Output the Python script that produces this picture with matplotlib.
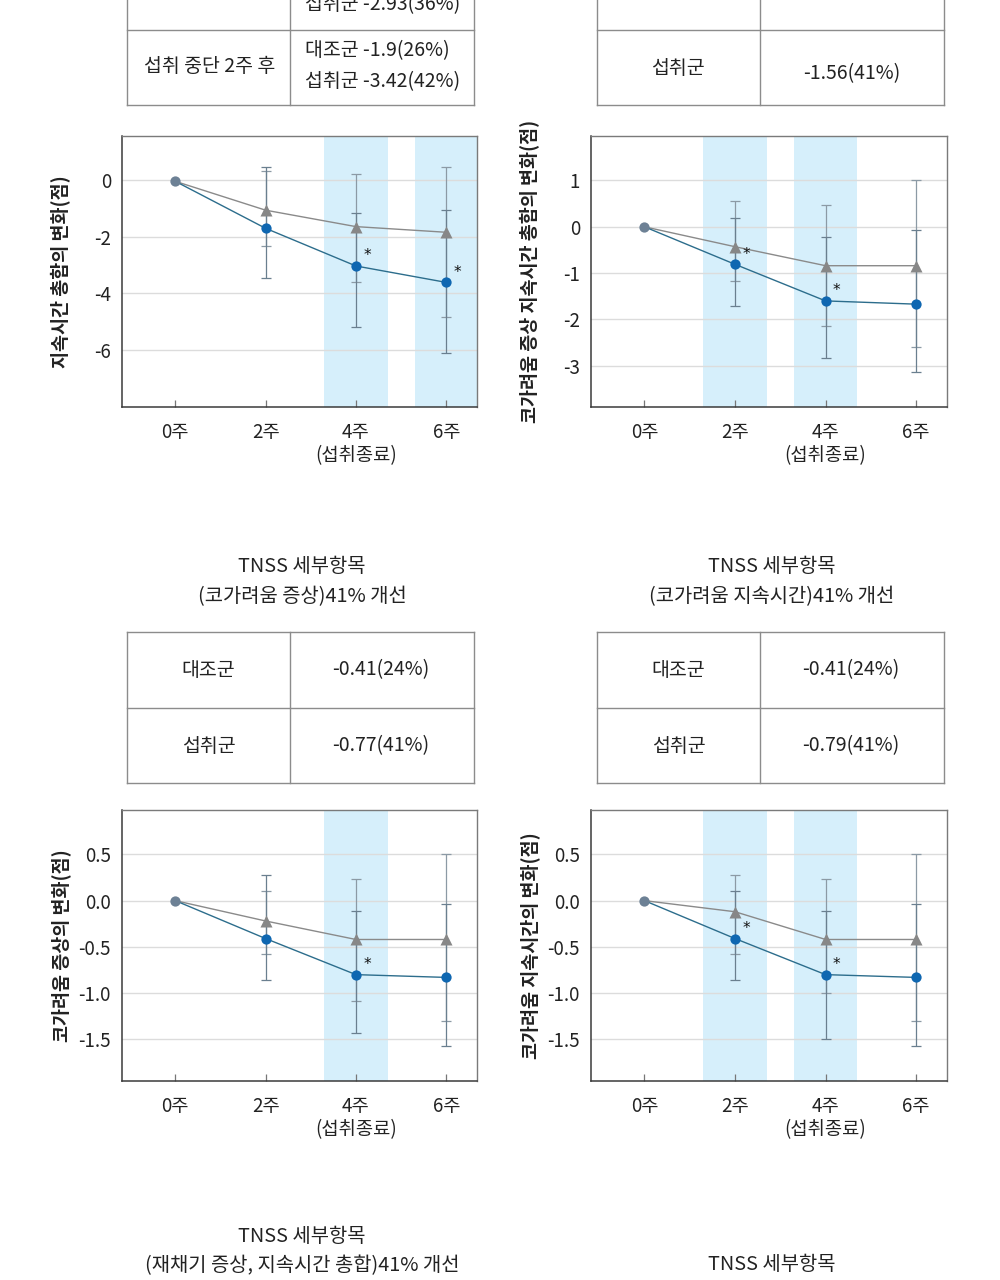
import matplotlib
matplotlib.use('Agg')
import matplotlib.pyplot as plt
import numpy as np

plt.rcParams['font.family'] = ['Noto Sans CJK KR', 'DejaVu Sans']
plt.rcParams['axes.unicode_minus'] = False

# ---------------- data ----------------
week_labels = ['0주', '2주', '4주\n(섭취종료)', '6주']
weeks = [0, 1, 2, 3]

# chart 1: 지속시간 총합
c1_ctrl = [-0.05, -1.07, -1.65, -1.85]
c1_ctrl_hi = [0.33, 0.20, 0.47]
c1_ctrl_lo = [-2.33, -3.59, -4.83]
c1_trt = [-0.05, -1.71, -3.04, -3.62]
c1_trt_hi = [0.44, -1.18, -1.08]
c1_trt_lo = [-3.45, -5.20, -6.12]
c1_bands = [2, 3]
c1_stars = [2, 3]
c1_yticks = [0, -2, -4, -6]
c1_ylim = (-8.02, 1.55)
c1_ylabel = '지속시간 총합의 변화(점)'

# chart 2: 코가려움 증상 지속시간 총합
c2_ctrl = [0.0, -0.43, -0.84, -0.84]
c2_ctrl_hi = [0.56, 0.46, 1.00]
c2_ctrl_lo = [-1.17, -2.15, -2.59]
c2_trt = [0.0, -0.81, -1.60, -1.67]
c2_trt_hi = [0.20, -0.21, -0.06]
c2_trt_lo = [-1.71, -2.84, -3.14]
c2_bands = [1, 2]
c2_stars = [1, 2]
c2_yticks = [1, 0, -1, -2, -3]
c2_ylim = (-3.89, 1.96)
c2_ylabel = '코가려움 증상 지속시간 총합의 변화(점)'

# chart 3: 코가려움 증상
c3_ctrl = [0.0, -0.22, -0.42, -0.42]
c3_ctrl_hi = [0.10, 0.23, 0.50]
c3_ctrl_lo = [-0.58, -1.08, -1.30]
c3_trt = [0.0, -0.41, -0.80, -0.83]
c3_trt_hi = [0.28, -0.11, -0.04]
c3_trt_lo = [-0.86, -1.43, -1.57]
c3_bands = [2]
c3_stars = [2]
c3_yticks = [0.5, 0.0, -0.5, -1.0, -1.5]
c3_ylim = (-1.95, 0.98)
c3_ylabel = '코가려움 증상의 변화(점)'

# chart 4: 코가려움 지속시간
c4_ctrl = [0.0, -0.12, -0.42, -0.42]
c4_ctrl_hi = [0.28, 0.23, 0.50]
c4_ctrl_lo = [-0.58, -1.00, -1.30]
c4_trt = [0.0, -0.41, -0.80, -0.83]
c4_trt_hi = [0.10, -0.11, -0.04]
c4_trt_lo = [-0.86, -1.50, -1.57]
c4_bands = [1, 2]
c4_stars = [1, 2]
c4_yticks = [0.5, 0.0, -0.5, -1.0, -1.5]
c4_ylim = (-1.95, 0.98)
c4_ylabel = '코가려움 지속시간의 변화(점)'

# titles
title_head = 'TNSS 세부항목'
title_mid_left = '(코가려움 증상)41% 개선'
title_mid_right = '(코가려움 지속시간)41% 개선'
title_bot_left = '(재채기 증상, 지속시간 총합)41% 개선'

# tables
top_left_row1_label = '섭취 4주 후'
top_left_row1_vals = ['대조군 -1.6(22%)', '섭취군 -2.93(36%)']
top_left_row2_label = '섭취 중단 2주 후'
top_left_row2_vals = ['대조군 -1.9(26%)', '섭취군 -3.42(42%)']
top_right_rows = [('대조군', '-0.84(22%)'), ('섭취군', '-1.56(41%)')]
mid_left_rows = [('대조군', '-0.41(24%)'), ('섭취군', '-0.77(41%)')]
mid_right_rows = [('대조군', '-0.41(24%)'), ('섭취군', '-0.79(41%)')]

# ---------------- style ----------------
W, H = 1000, 1280
TXT = '#222222'
LINE_GRAY = '#8a8a8a'
TRI_GRAY = '#878787'
BLUE_M = '#0f67b1'
BLUE_L = '#2c6d8c'
ZERO_M = '#6d8195'
ERR_C = '#8c9aa5'
ERR_T = '#6a7f8f'
BAND = '#d6effb'
GRID = '#dcdcdc'
TABLE_C = '#8c8c8c'

fig = plt.figure(figsize=(W / 100, H / 100), dpi=100)
fig.patch.set_facecolor('white')

# overlay in pixel coordinates for tables and titles
ov = fig.add_axes([0, 0, 1, 1], zorder=0)
ov.set_xlim(0, W)
ov.set_ylim(H, 0)
ov.axis('off')


def table_lines(x0, x1, xm, ytop, ymid, ybot):
    kw = dict(color=TABLE_C, lw=1.0)
    ov.plot([x0, x1], [ybot, ybot], **kw)
    ov.plot([x0, x1], [ymid, ymid], **kw)
    if ytop > 0:
        ov.plot([x0, x1], [ytop, ytop], **kw)
    for x in (x0, xm, x1):
        ov.plot([x, x], [ytop, ybot], **kw)


FS_T = 14
# top-left table (cut by top edge)
table_lines(127, 474, 290, -60, 30, 105)
ov.text(208.5, -10, top_left_row1_label, ha='center', va='center', fontsize=FS_T, color=TXT)
ov.text(305, -24, top_left_row1_vals[0], ha='left', va='center', fontsize=FS_T, color=TXT)
ov.text(305, 5, top_left_row1_vals[1], ha='left', va='center', fontsize=FS_T, color=TXT)
ov.text(210, 67, top_left_row2_label, ha='center', va='center', fontsize=FS_T, color=TXT)
ov.text(305, 51, top_left_row2_vals[0], ha='left', va='center', fontsize=FS_T, color=TXT)
ov.text(305, 82, top_left_row2_vals[1], ha='left', va='center', fontsize=FS_T, color=TXT)

# top-right table
table_lines(597, 944, 760, -60, 30, 105)
ov.text(678, -9, top_right_rows[0][0], ha='center', va='center', fontsize=FS_T, color=TXT)
ov.text(852, -9, top_right_rows[0][1], ha='center', va='center', fontsize=FS_T, color=TXT)
ov.text(678, 68, top_right_rows[1][0], ha='center', va='center', fontsize=FS_T, color=TXT)
ov.text(852, 74, top_right_rows[1][1], ha='center', va='center', fontsize=FS_T, color=TXT)

# middle tables
table_lines(127, 474, 290, 632, 708, 783)
table_lines(597, 944, 760, 632, 708, 783)
for (lab, val), yc in zip(mid_left_rows, (670, 746)):
    ov.text(208.5, yc, lab, ha='center', va='center', fontsize=FS_T, color=TXT)
    ov.text(381, yc, val, ha='center', va='center', fontsize=FS_T, color=TXT)
for (lab, val), yc in zip(mid_right_rows, (670, 746)):
    ov.text(678.5, yc, lab, ha='center', va='center', fontsize=FS_T, color=TXT)
    ov.text(851, yc, val, ha='center', va='center', fontsize=FS_T, color=TXT)

# titles
FS_TITLE = 14.3
ov.text(302, 566, title_head, ha='center', va='center', fontsize=FS_TITLE, color=TXT)
ov.text(302, 597, title_mid_left, ha='center', va='center', fontsize=FS_TITLE, color=TXT)
ov.text(772, 566, title_head, ha='center', va='center', fontsize=FS_TITLE, color=TXT)
ov.text(772, 597, title_mid_right, ha='center', va='center', fontsize=FS_TITLE, color=TXT)
ov.text(302, 1236, title_head, ha='center', va='center', fontsize=FS_TITLE, color=TXT)
ov.text(302, 1266, title_bot_left, ha='center', va='center', fontsize=FS_TITLE, color=TXT)
ov.text(772, 1265, title_head, ha='center', va='center', fontsize=FS_TITLE, color=TXT)


def make_axes(px_left, px_top, px_w, px_h):
    return fig.add_axes([px_left / W, 1 - (px_top + px_h) / H, px_w / W, px_h / H], zorder=2)


def draw_chart(ax, ctrl, ctrl_hi, ctrl_lo, trt, trt_hi, trt_lo, bands, stars,
               yticks, ylim, ylabel, fmt):
    x = np.array(weeks, dtype=float)
    ctrl = np.array(ctrl)
    trt = np.array(trt)
    for b in bands:
        ax.axvspan(b - 0.35, b + 0.35, color=BAND, lw=0, zorder=0)
    for yt in yticks:
        ax.axhline(yt, color=GRID, lw=1.0, zorder=1)
    # error bars
    ce = [ctrl[1:] - np.array(ctrl_lo), np.array(ctrl_hi) - ctrl[1:]]
    te = [trt[1:] - np.array(trt_lo), np.array(trt_hi) - trt[1:]]
    ax.errorbar(x[1:], ctrl[1:], yerr=ce, fmt='none', ecolor=ERR_C, elinewidth=0.9,
                capsize=3.8, capthick=0.9, zorder=2)
    ax.errorbar(x[1:], trt[1:], yerr=te, fmt='none', ecolor=ERR_T, elinewidth=0.9,
                capsize=3.8, capthick=0.9, zorder=2)
    # lines
    ax.plot(x, ctrl, color=LINE_GRAY, lw=1.0, zorder=3)
    ax.plot(x, trt, color=BLUE_L, lw=1.0, zorder=3)
    ax.plot(x[1:], ctrl[1:], '^', color=TRI_GRAY, ms=8, mec='none', zorder=4)
    ax.plot(x[1:], trt[1:], 'o', color=BLUE_M, ms=7.4, mec='none', zorder=5)
    ax.plot(x[:1], trt[:1], 'o', color=ZERO_M, ms=7.4, mec='none', zorder=5)
    for s in stars:
        ax.annotate('*', (x[s], trt[s]), xytext=(8, 2), textcoords='offset points',
                    fontsize=11, color='#111111', ha='center', va='bottom', zorder=6,
                    family=['DejaVu Sans'])
    ax.set_xlim(-0.59, 3.34)
    ax.set_ylim(*ylim)
    ax.set_xticks(weeks)
    ax.set_xticklabels(week_labels, fontsize=13.5, color=TXT, linespacing=1.1)
    ax.set_yticks(yticks)
    ax.set_yticklabels([fmt.format(v) for v in yticks], fontsize=13.5, color=TXT)
    ax.tick_params(axis='y', length=0, pad=8)
    ax.tick_params(axis='x', direction='in', length=5, width=0.9, color='#777777', pad=11)
    ax.set_ylabel(ylabel, fontsize=13.3, fontweight='bold', color=TXT)
    ax.yaxis.set_label_coords(-0.143, 0.5)
    for side in ('left', 'bottom'):
        ax.spines[side].set_color('#3a3a3a')
        ax.spines[side].set_linewidth(1.1)
    for side in ('top', 'right'):
        ax.spines[side].set_color('#7a7a7a')
        ax.spines[side].set_linewidth(1.0)
    ax.set_facecolor('white')


ax1 = make_axes(122, 136, 355, 271)
draw_chart(ax1, c1_ctrl, c1_ctrl_hi, c1_ctrl_lo, c1_trt, c1_trt_hi, c1_trt_lo,
           c1_bands, c1_stars, c1_yticks, c1_ylim, c1_ylabel, '{:g}')
ax2 = make_axes(591, 136, 356, 271)
draw_chart(ax2, c2_ctrl, c2_ctrl_hi, c2_ctrl_lo, c2_trt, c2_trt_hi, c2_trt_lo,
           c2_bands, c2_stars, c2_yticks, c2_ylim, c2_ylabel, '{:g}')
ax3 = make_axes(122, 810, 355, 271)
draw_chart(ax3, c3_ctrl, c3_ctrl_hi, c3_ctrl_lo, c3_trt, c3_trt_hi, c3_trt_lo,
           c3_bands, c3_stars, c3_yticks, c3_ylim, c3_ylabel, '{:.1f}')
ax4 = make_axes(591, 810, 356, 271)
draw_chart(ax4, c4_ctrl, c4_ctrl_hi, c4_ctrl_lo, c4_trt, c4_trt_hi, c4_trt_lo,
           c4_bands, c4_stars, c4_yticks, c4_ylim, c4_ylabel, '{:.1f}')

fig.savefig('out.png', dpi=100, facecolor='white')
